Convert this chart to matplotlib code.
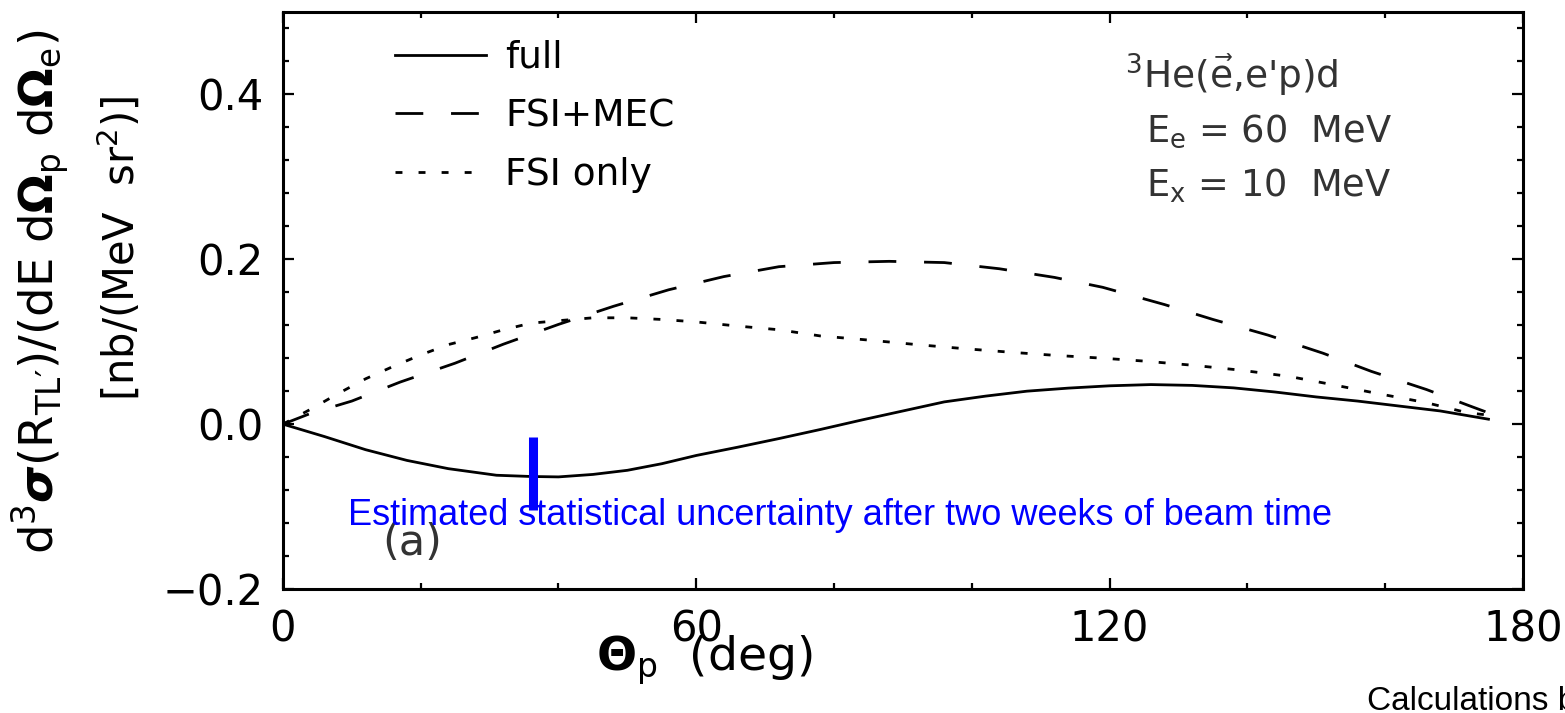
import numpy as np
import matplotlib
matplotlib.use("Agg")
import matplotlib.pyplot as plt
from matplotlib.ticker import MultipleLocator

plt.rcParams['font.family'] = ['DejaVu Sans']
plt.rcParams['mathtext.fontset'] = 'dejavusans'
plt.rcParams['mathtext.default'] = 'regular'

# angular distributions of d3sigma(R_TL') vs proton angle
full_theta = [0, 6, 12, 18, 24, 31, 36, 40, 45, 50, 55, 60, 66, 72, 78, 84, 90,
              96, 102, 108, 114, 120, 126, 132, 138, 144, 150, 156, 162, 168, 175]
full_val = [0.0, -0.015, -0.031, -0.044, -0.054, -0.062, -0.0635, -0.064, -0.061,
            -0.056, -0.048, -0.038, -0.028, -0.0175, -0.0065, 0.005, 0.016, 0.027,
            0.034, 0.040, 0.0437, 0.0465, 0.048, 0.047, 0.044, 0.039, 0.033,
            0.028, 0.022, 0.016, 0.006]

mec_theta = [0, 4, 10, 17, 25, 32, 40, 48, 56, 64, 72, 80, 88, 96, 104, 112,
             119, 122, 128, 135, 143, 151, 158, 166, 172, 175]
mec_val = [0.0, 0.013, 0.028, 0.051, 0.074, 0.097, 0.121, 0.143, 0.163, 0.179,
           0.191, 0.196, 0.1975, 0.196, 0.1885, 0.178, 0.166, 0.159, 0.145,
           0.127, 0.108, 0.086, 0.064, 0.042, 0.023, 0.0137]

fsi_theta = [0, 4, 8, 12, 16, 20, 24, 28, 32, 36, 40, 45, 50, 55, 60, 66, 72,
             78, 85, 92, 99, 106, 112, 119, 125, 132, 139, 146, 152, 159, 166,
             172, 175]
fsi_val = [0.0, 0.018, 0.037, 0.055, 0.070, 0.084, 0.0965, 0.105, 0.1145, 0.1225,
           0.1255, 0.129, 0.129, 0.127, 0.124, 0.119, 0.1145, 0.107, 0.102,
           0.0965, 0.0915, 0.087, 0.0835, 0.080, 0.0765, 0.0715, 0.0655, 0.058,
           0.0485, 0.037, 0.026, 0.0137, 0.011]

# projected statistical uncertainty
unc_theta = [36.3]
unc_center = [-0.06]
unc_err = [0.044]

x_ticks = [0, 60, 120, 180]
y_ticks = [-0.2, 0.0, 0.2, 0.4]
y_ticklabels = ['\u22120.2', '0.0', '0.2', '0.4']

fig = plt.figure(figsize=(15.65, 7.13), dpi=100)
ax = fig.add_axes([0.1808, 0.1739, 0.7923, 0.8093])

lw = 2.0
ax.plot(full_theta, full_val, color='black', lw=lw, label='full')
ax.plot(mec_theta, mec_val, color='black', lw=lw, dashes=(10, 10), label='FSI+MEC')
ax.plot(fsi_theta, fsi_val, color='black', lw=lw, dashes=(2.5, 5.8), label='FSI only')

ax.errorbar(unc_theta, unc_center, yerr=unc_err, fmt='none', ecolor='#0000ff',
            elinewidth=6.5, capsize=0)

ax.set_xlim(0, 180)
ax.set_ylim(-0.2, 0.5)
ax.set_xticks(x_ticks)
ax.set_xticklabels([str(t) for t in x_ticks])
ax.xaxis.set_minor_locator(MultipleLocator(20))
ax.set_yticks(y_ticks)
ax.set_yticklabels(y_ticklabels)
ax.yaxis.set_minor_locator(MultipleLocator(0.04))

ax.tick_params(which='both', direction='in', top=True, right=True, width=1.6,
               labelsize=30, color='black')
ax.tick_params(which='major', length=8, pad=14)
ax.tick_params(which='minor', length=4.5)
for sp in ax.spines.values():
    sp.set_linewidth(2.2)

leg = ax.legend(loc='upper left', bbox_to_anchor=(0.09, 0.952), frameon=False,
                fontsize=27, handlelength=2.45, handletextpad=0.5,
                labelspacing=0.6, borderpad=0, borderaxespad=0)

txt_color = '#333333'
ax.text(0.679, 0.868, r"$^3$He($\vec{e}$,e'p)d", transform=ax.transAxes,
        fontsize=27, color=txt_color, va='baseline')
ax.text(0.696, 0.7747, r'E$_e$ = 60  MeV', transform=ax.transAxes,
        fontsize=26.5, color=txt_color, va='baseline')
ax.text(0.696, 0.6794, r'E$_x$ = 10  MeV', transform=ax.transAxes,
        fontsize=26.5, color=txt_color, va='baseline')
ax.text(0.104, 0.080, '(a)', transform=ax.transAxes, fontsize=31,
        color=txt_color, ha='center', va='center')

fig.text(0.0256, 0.591,
         r'd$^3\boldsymbol{\sigma}$(R$_{TL\prime}$)/(dE d$\boldsymbol{\Omega}_p$ d$\boldsymbol{\Omega}_e$)',
         rotation=90, ha='center', va='center', fontsize=33.5)
fig.text(0.0767, 0.652, r'[nb/(MeV  sr$^2$)]', rotation=90,
         ha='center', va='center', fontsize=30)
fig.text(0.45, 0.060, r'$\boldsymbol{\Theta}_p$  (deg)', ha='center',
         va='baseline', fontsize=34)

fig.text(0.2224, 0.2637, 'Estimated statistical uncertainty after two weeks of beam time',
         family='Liberation Sans', fontsize=26, color='#0000ff', va='baseline')
fig.text(0.8735, 0.004, 'Calculations by', family='Liberation Sans',
         fontsize=24, color='black', va='baseline')

fig.savefig('out.png', dpi=100)
